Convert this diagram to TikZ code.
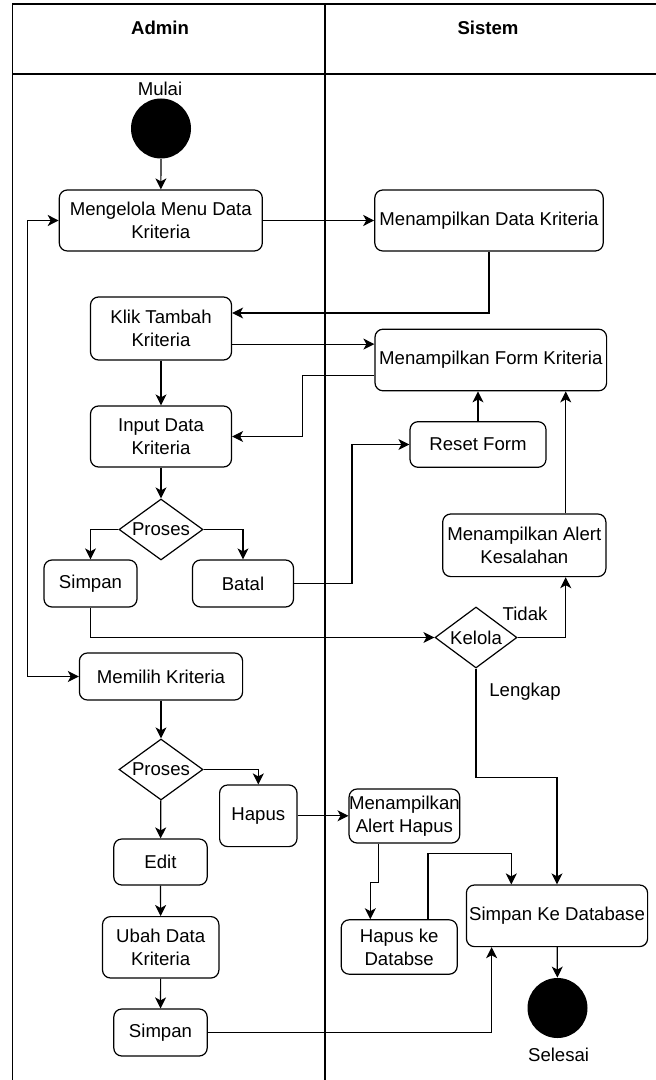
\documentclass[tikz,border=0pt]{standalone}
\usepackage{fontspec}
\setmainfont{Liberation Sans}
\usetikzlibrary{shapes.geometric,arrows.meta}

\begin{document}
\begin{tikzpicture}[
  x=0.5pt, y=-0.5pt,
  act/.style={rectangle, rounded corners=4pt, draw=black, line width=0.6pt,
              align=center, inner xsep=1pt, inner ysep=1pt,
              font=\fontsize{9.3}{11.5}\selectfont},
  dec/.style={diamond, draw=black, line width=0.6pt, aspect=1.38, inner sep=0pt,
              minimum width=42pt, minimum height=30.5pt,
              font=\fontsize{9.3}{11.5}\selectfont},
  dot/.style={circle, fill=black, minimum size=30pt, inner sep=0pt},
  lbl/.style={font=\fontsize{9.3}{11.5}\selectfont, inner sep=0pt},
  lane/.style={line width=0.6pt},
  flow/.style={line width=0.6pt, -{Stealth[length=5.5pt,width=5.5pt,inset=1.5pt]}},
  both/.style={line width=0.6pt, {Stealth[length=5.5pt,width=5.5pt,inset=1.5pt]}-{Stealth[length=5.5pt,width=5.5pt,inset=1.5pt]}}
]
  \useasboundingbox (0,0) rectangle (656,1080);

  % Swimlanes
  \draw[lane] (656,4) -- (12.5,4) -- (12.5,1080);
  \draw[lane] (12.5,74) -- (656,74);
  \draw[lane] (325,4) -- (325,1080);
  \node[font=\bfseries\fontsize{9.3}{11.5}\selectfont] (admin)  at (160,27.5) {Admin};
  \node[font=\bfseries\fontsize{9.3}{11.5}\selectfont] (sistem) at (488,27.5) {Sistem};

  % Admin lane
  \node[lbl] (mulai) at (160,89) {Mulai};
  \node[dot] (start) at (161,128.5) {};
  \node[act, minimum width=101.5pt, minimum height=30.5pt] (mengelola) at (160.8,220.5)
    {Mengelola Menu Data\\Kriteria};
  \node[act, minimum width=70.5pt, minimum height=31.5pt] (klik) at (161,328.5)
    {Klik Tambah\\Kriteria};
  \node[act, minimum width=70.5pt, minimum height=30.5pt] (input) at (161,436.5)
    {Input Data\\Kriteria};
  \node[dec] (proses1) at (161,529.5) {Proses};
  \node[act, minimum width=46.5pt, minimum height=23.5pt] (simpan1) at (90.5,583.5) {Simpan};
  \node[act, minimum width=50.5pt, minimum height=23.5pt] (batal) at (243,583.5) {Batal};
  \node[act, minimum width=81.6pt, minimum height=23.5pt] (memilih) at (161,676.5)
    {Memilih Kriteria};
  \node[dec] (proses2) at (161,769.5) {Proses};
  \node[act, minimum width=38.7pt, minimum height=30.8pt] (hapus) at (258.3,815.8) {Hapus};
  \node[act, minimum width=46.7pt, minimum height=23pt] (edit) at (160.5,862) {Edit};
  \node[act, minimum width=58.2pt, minimum height=30.7pt] (ubah) at (160.7,947.3)
    {Ubah Data\\Kriteria};
  \node[act, minimum width=46.7pt, minimum height=23.5pt] (simpan2) at (160.5,1032.5) {Simpan};

  % Sistem lane
  \node[act, minimum width=114.2pt, minimum height=30.5pt] (tampilData) at (489,220.5)
    {Menampilkan Data Kriteria};
  \node[act, minimum width=115.8pt, minimum height=30.8pt] (tampilForm) at (490.8,360)
    {Menampilkan Form Kriteria};
  \node[act, minimum width=68pt, minimum height=22.8pt] (reset) at (478,444.5) {Reset Form};
  \node[act, minimum width=81.6pt, minimum height=31.3pt] (alertSalah) at (524.3,545.3)
    {Menampilkan Alert\\Kesalahan};
  \node[dec, minimum width=41pt] (kelola) at (476,637.5) {Kelola};
  \node[lbl] (tidak) at (525,614) {Tidak};
  \node[lbl] (lengkap) at (525,691.7) {Lengkap};
  \node[act, inner xsep=0pt, minimum width=52.9pt, minimum height=27pt] (alertHapus)
    at (404.4,816) {Menampilkan\\Alert Hapus};
  \node[act, minimum width=58pt, minimum height=27.2pt] (hapusDb) at (399.2,947)
    {Hapus ke\\Databse};
  \node[act, inner xsep=0pt, minimum width=90.6pt, minimum height=30.8pt] (simpanDb)
    at (557,915.8) {Simpan Ke Database};
  \node[dot] (end) at (557.5,1008) {};
  \node[lbl] (selesai) at (558.6,1055) {Selesai};

  % Flows
  \draw[flow] (start) -- (mengelola);
  \draw[flow] (mengelola) -- (tampilData);
  \draw[flow] (tampilData.south) |- ([yshift=7.75pt]klik.east);
  \draw[flow] ([yshift=-7.8pt]klik.east) coordinate (k1) -- (k1 -| tampilForm.west);
  \draw[flow] (klik) -- (input);
  \draw[flow] ([yshift=-7.8pt]tampilForm.west) -- ++(-71.7,0) |- (input.east);
  \draw[flow] (input) -- (proses1);
  \draw[flow] (proses1.west) -| (simpan1.north);
  \draw[flow] (proses1.east) -| (batal.north);
  \draw[flow] (batal.east) -- ++(57.8,0) |- (reset.west);
  \draw[flow] (reset.north) -- (reset.north |- tampilForm.south);
  \draw[flow] ([xshift=20.7pt]alertSalah.north) -- ([xshift=20.7pt]alertSalah.north |- tampilForm.south);
  \draw[flow] (simpan1.south) |- (kelola.west);
  \draw[flow] (kelola.east) -| ([xshift=20.7pt]alertSalah.south);
  \draw[flow] (kelola.south) -- ++(0,109) -| (simpanDb.north);
  \draw[both] (mengelola.west) -- ++(-31,0) |- (memilih.west);
  \draw[flow] (memilih) -- (proses2);
  \draw[flow] (proses2) -- (edit);
  \draw[flow] (proses2.east) -| (hapus.north);
  \draw[flow] (hapus.east) -- (hapus.east -| alertHapus.west);
  \draw[flow] ([xshift=-12.85pt]alertHapus.south) -- ++(0,38.7) -| ([xshift=-14.45pt]hapusDb.north);
  \draw[flow] ([xshift=14.4pt]hapusDb.north) -- ++(0,-66) -| ([xshift=-22.85pt]simpanDb.north);
  \draw[flow] (simpanDb) -- (end);
  \draw[flow] (edit) -- (ubah);
  \draw[flow] (ubah) -- (simpan2);
  \draw[flow] (simpan2.east) -| ([xshift=-32.7pt]simpanDb.south);
\end{tikzpicture}
\end{document}
